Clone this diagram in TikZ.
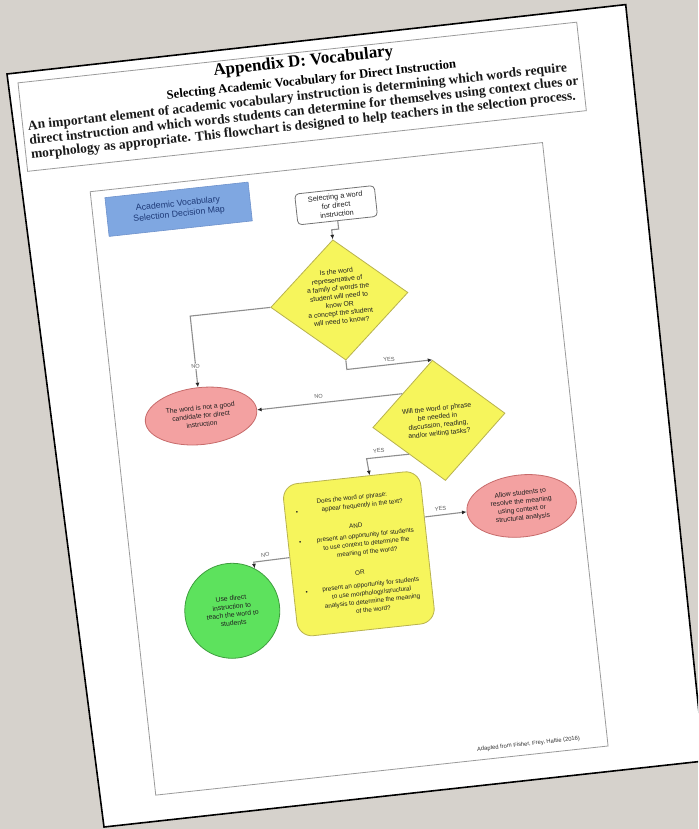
\documentclass[tikz,border=0pt]{standalone}
\usepackage{fontspec}
\setmainfont{Liberation Serif}
\newfontfamily\arialf{Liberation Sans}
\usetikzlibrary{shapes.geometric,arrows.meta}

\definecolor{deskgray}{HTML}{D6D2CC}
\definecolor{rulegray}{HTML}{9A9A9A}
\definecolor{linkgray}{HTML}{8E8E8E}
\definecolor{ylwfill}{HTML}{F6F55C}
\definecolor{ylwline}{HTML}{B8B24E}
\definecolor{rosefill}{HTML}{F3A1A1}
\definecolor{roseline}{HTML}{C76B6B}
\definecolor{limefill}{HTML}{5DE25D}
\definecolor{limeline}{HTML}{3E9E3E}
\definecolor{capfill}{HTML}{7FA7E1}
\definecolor{capline}{HTML}{6E92CC}
\definecolor{capink}{HTML}{1E3A78}

\begin{document}
\begin{tikzpicture}[x=1pt,y=-1pt,
  link/.style={draw=linkgray, line width=1.1pt, -{Latex[length=4.5pt,width=4pt,color=black!85]}},
  flowtxt/.style={font=\arialf\fontsize{6.8}{8.3}\selectfont, align=center, inner sep=0pt, text=black!88},
  boxtxt/.style={font=\arialf\fontsize{6.3}{8.45}\selectfont, align=center, inner sep=0pt, text=black!88},
  tag/.style={font=\arialf\fontsize{5.6}{6}\selectfont, text=black!65, inner sep=0.8pt},
  decision/.style={diamond, draw=ylwline, fill=ylwfill, line width=0.8pt, inner sep=0pt},
  redoval/.style={ellipse, draw=roseline, fill=rosefill, line width=0.8pt, inner sep=0pt,
    minimum width=112pt, minimum height=57pt, flowtxt},
  greendot/.style={circle, draw=limeline, fill=limefill, line width=0.8pt, inner sep=0pt,
    minimum size=95pt, flowtxt},
  startbox/.style={rectangle, rounded corners=4pt, draw=black!55, fill=white, line width=0.8pt,
    minimum width=80pt, minimum height=31pt, inner sep=0pt,
    font=\arialf\fontsize{7.4}{8.8}\selectfont, align=center, text=black!88},
  mapbox/.style={rectangle, draw=capline, fill=capfill, line width=0.6pt,
    minimum width=144pt, minimum height=39pt, inner sep=0pt,
    font=\arialf\fontsize{8.8}{10.4}\selectfont, align=center, text=capink},
  bigbox/.style={rectangle, rounded corners=15pt, draw=ylwline, fill=ylwfill, line width=0.8pt,
    minimum width=138pt, minimum height=153pt, inner sep=0pt},
  headtxt/.style={font=\bfseries\fontsize{13.5}{15}\selectfont, inner sep=0pt, text=black!90}
]
\useasboundingbox (0,0) rectangle (698,829);
\clip (0,0) rectangle (698,829);
\fill[deskgray] (0,0) rectangle (698,829);

% the sheet of paper
\filldraw[fill=white, draw=black, line width=1.6pt]
  (7,74) -- (625.7,4.6) -- (704,761) -- (104,827) -- cycle;

\begin{scope}[shift={(7,74)}, rotate=6.2, transform shape]
  % heading block
  \draw[rulegray, line width=0.8pt] (10,10) -- (572,10) -- (572,99) -- (10,99) -- cycle;
  \node[font=\bfseries\fontsize{17}{20}\selectfont, inner sep=0pt, anchor=base] (title) at (296,24)
    {Appendix D: Vocabulary};
  \node[font=\bfseries\fontsize{12.7}{15}\selectfont, inner sep=0pt, anchor=base] (subtitle) at (302,42.5)
    {Selecting Academic Vocabulary for Direct Instruction};
  \node[headtxt, anchor=base west] (para1) at (15,58)
    {An important element of academic vocabulary instruction is determining which words require};
  \node[headtxt, anchor=base west] (para2) at (15,72.5)
    {direct instruction and which words students can determine for themselves using context clues or};
  \node[headtxt, anchor=base west] (para3) at (15,87)
    {morphology as appropriate. This flowchart is designed to help teachers in the selection process.};

  % flowchart frame
  \draw[rulegray, line width=0.8pt] (70,126) -- (525,126) -- (525,733) -- (70,733) -- cycle;

  % boxes
  \node[mapbox] (mapname) at (156,153) {Academic Vocabulary\\Selection Decision Map};
  \node[startbox] (start) at (313,166) {Selecting a word\\for direct\\instruction};

  \node[decision, minimum width=138pt, minimum height=121pt] (q1) at (306,260.5) {};
  \node[flowtxt] (q1txt) at (306,257)
    {Is the word\\representative of\\a family of words the\\student will need to\\know OR\\a concept the student\\will need to know?};

  \node[decision, minimum width=133pt, minimum height=121pt] (q2) at (392,391) {};
  \node[flowtxt] (q2txt) at (391,392)
    {Will the word or phrase\\be needed in\\discussion, reading,\\and/or writing tasks?};

  \node[redoval] (notgood) at (156,361) {The word is not a good\\candidate for direct\\instruction};
  \node[redoval, minimum width=110pt, minimum height=62pt] (allow) at (465,485)
    {Allow students to\\resolve the meaning\\using context or\\structural analysis};
  \node[greendot] (teach) at (166,558) {Use direct\\instruction to\\teach the word to\\students};

  \node[bigbox] (q3) at (298,515) {};
  \node[boxtxt, anchor=base] (q3head) at (297,460.8) {Does the word or phrase:};
  \node[boxtxt, anchor=base] (q3b1) at (241,469.2) {\textbullet};
  \node[boxtxt, anchor=base] (q3t1) at (306.5,469.2) {appear frequently in the text?};
  \node[boxtxt, anchor=base] (q3and) at (298,488.8) {AND};
  \node[boxtxt, anchor=base] (q3b2) at (241,499.8) {\textbullet};
  \node[boxtxt, anchor=north] (q3t2) at (306.5,494.5)
    {present an opportunity for students\\to use context to determine the\\meaning of the word?};
  \node[boxtxt, anchor=base] (q3or) at (297,535.8) {OR};
  \node[boxtxt, anchor=base] (q3b3) at (242,549.3) {\textbullet};
  \node[boxtxt, anchor=north] (q3t3) at (306.5,544)
    {present an opportunity for students\\to use morphology/structural\\analysis to determine the meaning\\of the word?};

  \node[font=\arialf\fontsize{5.8}{7}\selectfont, inner sep=0pt, anchor=base east, text=black!80]
    (credit) at (498,724) {Adapted from Fisher, Frey, Hattie (2016)};

  % bend points of the connectors
  \coordinate (k0a) at (313,190);
  \coordinate (k0b) at (306,190);
  \coordinate (k1) at (156,260.5);
  \coordinate (k2) at (306,330.5);
  \coordinate (k3) at (316,421.3);
  \coordinate (k5) at (192.6,512);

  % connectors
  \draw[link] (start.south) -- (k0a) -- (k0b) -- (q1.north);
  \draw[link] (q1.west) -- (k1) -- (notgood.north);
  \draw[link] (q1.south) -- (k2) -- (q2.north);
  \draw[link] (q2.north west) -- (notgood.east);
  \draw[link] (q2.south west) -- (k3) -- (q3.76.76);
  \draw[link] (q3.23.5) -- (allow.west);
  \draw[link] (q3.177.5) -- (k5) -- (teach.56);

  % connector labels
  \node[tag, fill=white] (no1) at (156,311) {NO};
  \node[tag] (yes1) at (349,325) {YES};
  \node[tag] (no2) at (275,354) {NO};
  \node[tag] (yes2) at (329,414.5) {YES};
  \node[tag] (yes3) at (384,479) {YES};
  \node[tag] (no3) at (205,506) {NO};
\end{scope}
\end{tikzpicture}
\end{document}
